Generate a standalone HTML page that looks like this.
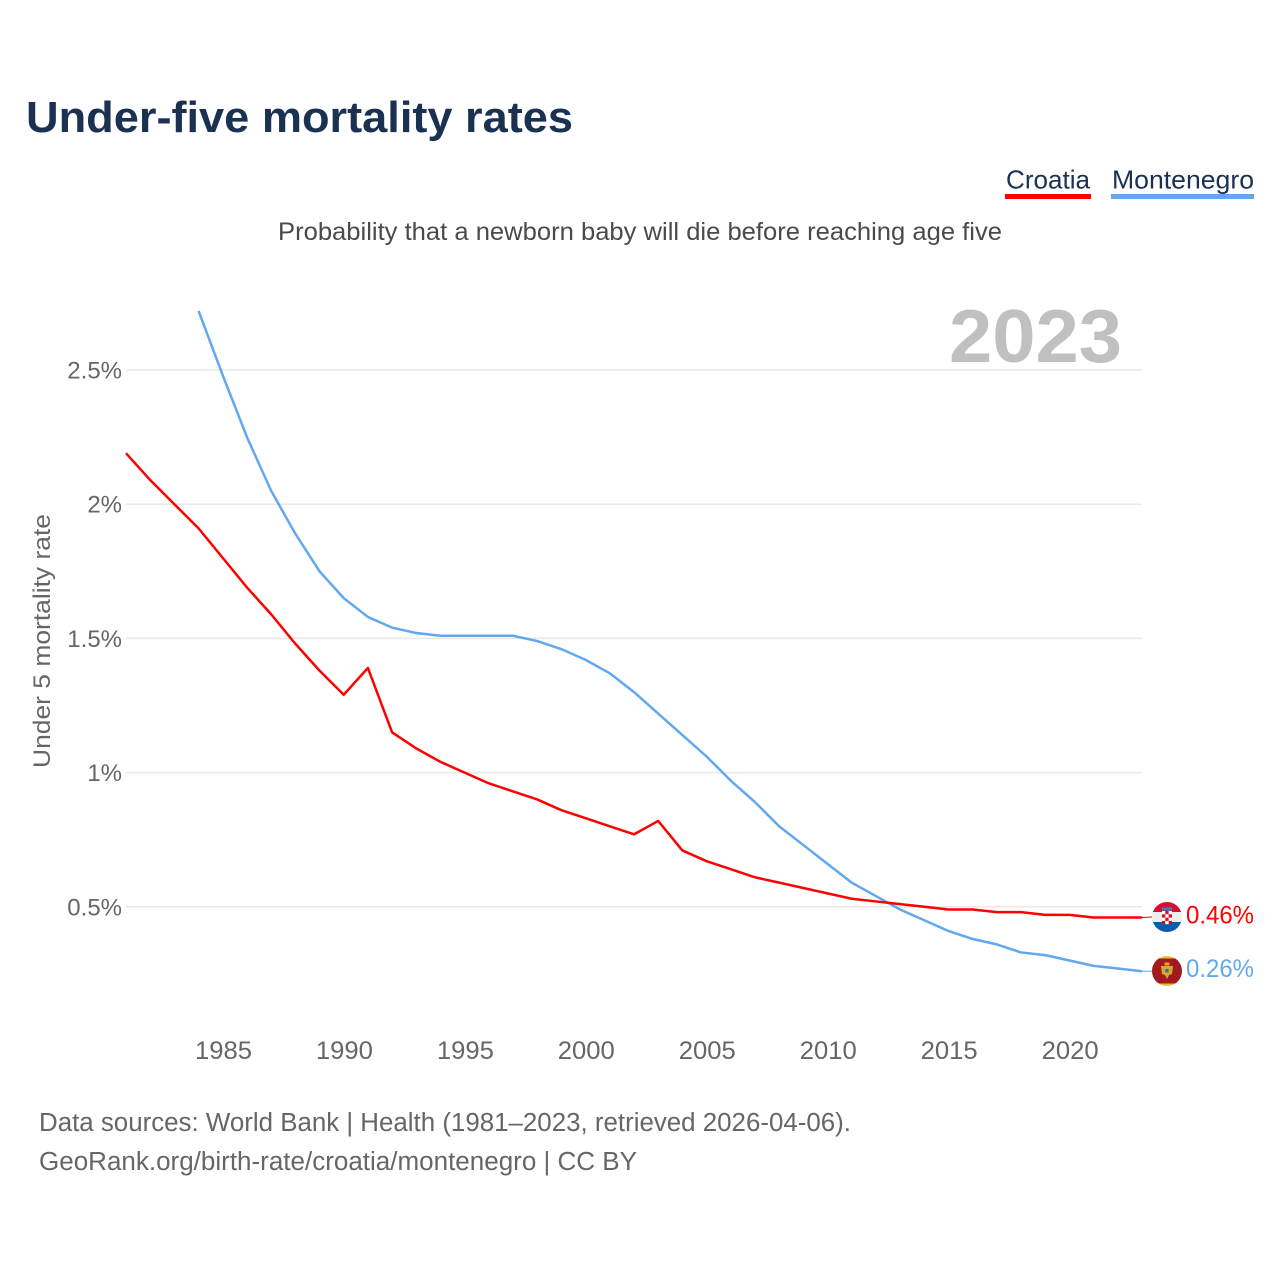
<!DOCTYPE html>
<html lang="en">
<head>
<meta charset="utf-8">
<title>Under-five mortality rates</title>
<style>
html,body{margin:0;padding:0;background:#fff;}
svg{display:block;font-family:"Liberation Sans",sans-serif;}
</style>
</head>
<body>
<svg id="chart" xmlns="http://www.w3.org/2000/svg" width="1280" height="1280" viewBox="0 0 1280 1280">
  <defs>
    <clipPath id="flag-clip-hr"><circle cx="1167" cy="917" r="15"/></clipPath>
    <clipPath id="flag-clip-me"><circle cx="1167" cy="971" r="15"/></clipPath>
  </defs>
  <text x="26" y="132" font-size="44" font-weight="700" fill="#1a3152" textLength="547" lengthAdjust="spacingAndGlyphs">Under-five mortality rates</text>
  <text x="1006" y="188.5" font-size="26" fill="#1a3152" textLength="84" lengthAdjust="spacingAndGlyphs">Croatia</text>
  <rect x="1005" y="194" width="86" height="5" fill="#ff0000"/>
  <text x="1112" y="188.5" font-size="26" fill="#1a3152" textLength="142" lengthAdjust="spacingAndGlyphs">Montenegro</text>
  <rect x="1111" y="194" width="143" height="5" fill="#62a8ef"/>
  <text x="278" y="240" font-size="25" fill="#4a4a4a" textLength="724" lengthAdjust="spacingAndGlyphs">Probability that a newborn baby will die before reaching age five</text>
  <text x="949" y="362" font-size="75" font-weight="700" fill="#c0c0c0" textLength="173" lengthAdjust="spacingAndGlyphs">2023</text>
  <text transform="translate(50,768) rotate(-90)" font-size="24.5" fill="#666" textLength="254" lengthAdjust="spacingAndGlyphs">Under 5 mortality rate</text>
  <g id="grid"></g>
  <g id="yticks"></g>
  <g id="xticks"></g>
  <g id="series"></g>
  <g clip-path="url(#flag-clip-hr)">
    <rect x="1152" y="902" width="30" height="10" fill="#d5102f"/>
    <rect x="1152" y="912" width="30" height="10" fill="#eeeeee"/>
    <rect x="1152" y="922" width="30" height="10" fill="#0f5ab0"/>
    <rect x="1162" y="911" width="10" height="13" fill="#d5102f"/>
    <rect x="1162" y="911" width="3.3" height="3.3" fill="#fff"/>
    <rect x="1168.6" y="911" width="3.3" height="3.3" fill="#fff"/>
    <rect x="1165.3" y="914.3" width="3.3" height="3.3" fill="#fff"/>
    <rect x="1162" y="917.6" width="3.3" height="3.3" fill="#fff"/>
    <rect x="1168.6" y="917.6" width="3.3" height="3.3" fill="#fff"/>
    <rect x="1165.3" y="920.9" width="3.3" height="3.3" fill="#fff"/>
    <rect x="1162" y="907.5" width="10" height="3" fill="#3b7fc9"/>
  </g>
  <g clip-path="url(#flag-clip-me)">
    <rect x="1152" y="956" width="30" height="30" fill="#ecc03a"/>
    <rect x="1152" y="958.5" width="30" height="25" fill="#a11a1f"/>
    <path d="M1161 966 L1173 966 L1172 974 L1169 975 L1167 979 L1165 975 L1162 974 Z" fill="#d9a92c"/>
    <rect x="1164.5" y="962.5" width="5" height="3" fill="#d9a92c"/>
    <rect x="1165.3" y="969" width="3.4" height="3.4" fill="#2f6aa8"/>
  </g>
  <g id="endlabels"></g>
  <text x="39" y="1131" font-size="25.5" fill="#666" textLength="812" lengthAdjust="spacingAndGlyphs">Data sources: World Bank | Health (1981–2023, retrieved 2026-04-06).</text>
  <text x="39" y="1170" font-size="25.5" fill="#666" textLength="598" lengthAdjust="spacingAndGlyphs">GeoRank.org/birth-rate/croatia/montenegro | CC BY</text>
</svg>
<script>
const yTickValues = [0.5, 1, 1.5, 2, 2.5];
const yTickLabels = ["0.5%", "1%", "1.5%", "2%", "2.5%"];
const xTickYears = [1985, 1990, 1995, 2000, 2005, 2010, 2015, 2020];
const xTickLabels = ["1985", "1990", "1995", "2000", "2005", "2010", "2015", "2020"];
const croatiaStartYear = 1981;
const croatiaValues = [2.19, 2.09, 2.0, 1.91, 1.80, 1.69, 1.59, 1.48, 1.38, 1.29, 1.39, 1.15, 1.09, 1.04, 1.00, 0.96, 0.93, 0.90, 0.86, 0.83, 0.80, 0.77, 0.82, 0.71, 0.67, 0.64, 0.61, 0.59, 0.57, 0.55, 0.53, 0.52, 0.51, 0.50, 0.49, 0.49, 0.48, 0.48, 0.47, 0.47, 0.46, 0.46, 0.46];
const montenegroStartYear = 1984;
const montenegroValues = [2.72, 2.48, 2.25, 2.05, 1.89, 1.75, 1.65, 1.58, 1.54, 1.52, 1.51, 1.51, 1.51, 1.51, 1.49, 1.46, 1.42, 1.37, 1.30, 1.22, 1.14, 1.06, 0.97, 0.89, 0.80, 0.73, 0.66, 0.59, 0.54, 0.49, 0.45, 0.41, 0.38, 0.36, 0.33, 0.32, 0.30, 0.28, 0.27, 0.26];
const croatiaEndLabel = "0.46%";
const montenegroEndLabel = "0.26%";

const NS = "http://www.w3.org/2000/svg";
function xScale(year) { return 126 + (year - 1981) * 24.19; }
function yScale(v) { return 1041 - v * 268.4; }
function make(tag, parent, attrs) {
  const el = document.createElementNS(NS, tag);
  for (const k in attrs) el.setAttribute(k, attrs[k]);
  parent.appendChild(el);
  return el;
}
const grid = document.getElementById("grid");
const yticks = document.getElementById("yticks");
const xticks = document.getElementById("xticks");
const series = document.getElementById("series");
const endlabels = document.getElementById("endlabels");

yTickValues.forEach(function (v, i) {
  const line = make("line", grid, { x1: 126, x2: 1142, y1: yScale(v), y2: yScale(v), stroke: "#e9e9e9", "stroke-width": 1.5 });
  
  
  const t = make("text", yticks, { x: 122, y: yScale(v) + 8.5, "text-anchor": "end", "font-size": 24, fill: "#666" });
  
  
  t.textContent = yTickLabels[i];
});
xTickYears.forEach(function (yr, i) {
  const t = make("text", xticks, { x: xScale(yr) + 0.7, y: 1059, "text-anchor": "middle", "font-size": 25, fill: "#666", textLength: 57, lengthAdjust: "spacingAndGlyphs" });
  
  
  t.textContent = xTickLabels[i];
});
function pointsFor(values, startYear) {
  return values.map(function (v, i) { return xScale(startYear + i).toFixed(2) + "," + yScale(v).toFixed(2); }).join(" ");
}
const lineM = make("polyline", series, { points: pointsFor(montenegroValues, montenegroStartYear), fill: "none", stroke: "#62a8ef", "stroke-width": 2.5, "stroke-linejoin": "round" });


const lineC = make("polyline", series, { points: pointsFor(croatiaValues, croatiaStartYear), fill: "none", stroke: "#ff0000", "stroke-width": 2.5, "stroke-linejoin": "round" });



const lastC = croatiaValues[croatiaValues.length - 1];
const lastM = montenegroValues[montenegroValues.length - 1];
const connC = make("line", series, { x1: 1142, x2: 1152, y1: yScale(lastC), y2: yScale(lastC) - 0.5, stroke: "#ff0000", "stroke-width": 1 });


const connM = make("line", series, { x1: 1142, x2: 1152, y1: yScale(lastM), y2: yScale(lastM), stroke: "#62a8ef", "stroke-width": 1 });


const labC = make("text", endlabels, { x: 1186, y: yScale(lastC) + 6, "font-size": 25, fill: "#ff0000", textLength: 68, lengthAdjust: "spacingAndGlyphs" });


labC.textContent = croatiaEndLabel;
const labM = make("text", endlabels, { x: 1186, y: yScale(lastM) + 6, "font-size": 25, fill: "#62a8ef", textLength: 68, lengthAdjust: "spacingAndGlyphs" });


labM.textContent = montenegroEndLabel;
</script>
</body>
</html>
